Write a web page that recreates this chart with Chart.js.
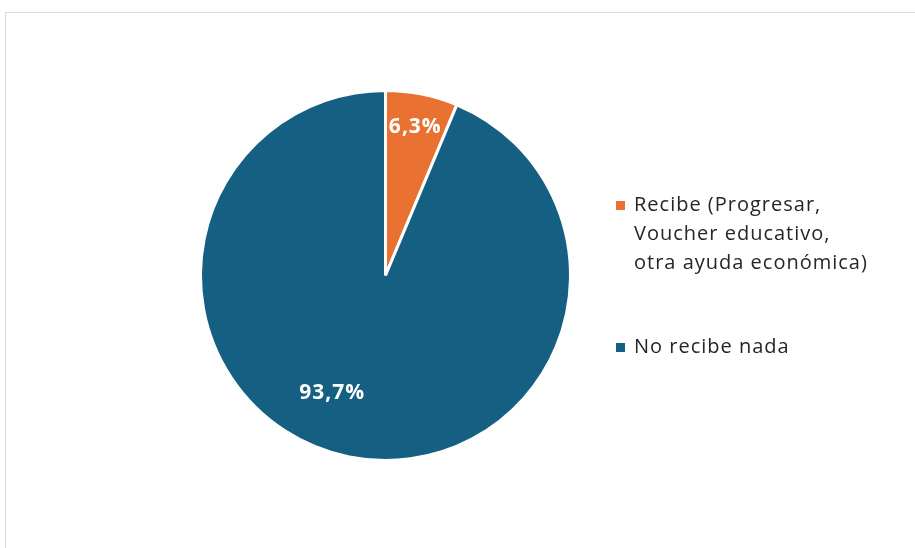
<!DOCTYPE html>
<html>
<head>
<meta charset="utf-8">
<script src="https://cdn.jsdelivr.net/npm/chart.js@4.4.1/dist/chart.umd.min.js"></script>
<style>
  html, body { margin: 0; padding: 0; background: #fff; }
  #wrap { width: 915px; height: 548px; position: relative; }
</style>
</head>
<body>
<div id="wrap"><canvas id="grafico"></canvas></div>
<script>
// categorias y porcentajes
const categorias = [
  ['Recibe (Progresar,', 'Voucher educativo,', 'otra ayuda económica)'],
  ['No recibe nada']
]
const porcentajes = [6.3, 93.7]
const etiquetas = ['6,3%', '93,7%']
const colores = ['#E97132', '#156082']

// donde va cada etiqueta dentro de su porcion (fraccion del radio, giro en grados)
const posEtiqueta = [{ r: 0.82, giro: 0 }, { r: 0.70, giro: 13 }]

const fuente = '"Open Sans", "Liberation Sans", sans-serif'

// marco gris del area del grafico
const marco = {
  id: 'marco',
  beforeDraw(chart) {
    const c = chart.ctx
    c.save()
    c.strokeStyle = '#d9d9d9'
    c.lineWidth = 1
    c.strokeRect(5.5, 12.5, 2000, 2000)
    c.restore()
  }
}

// porcentajes en blanco dentro de cada porcion
const valores = {
  id: 'valores',
  afterDatasetsDraw(chart) {
    const c = chart.ctx
    const meta = chart.getDatasetMeta(0)
    c.save()
    c.fillStyle = '#ffffff'
    c.font = 'bold 21px ' + fuente
    c.letterSpacing = '1px'
    c.textAlign = 'center'
    c.textBaseline = 'middle'
    meta.data.forEach((arc, i) => {
      const p = posEtiqueta[i]
      const ang = (arc.startAngle + arc.endAngle) / 2 + p.giro * Math.PI / 180
      const x = arc.x + Math.cos(ang) * arc.outerRadius * p.r
      const y = arc.y + Math.sin(ang) * arc.outerRadius * p.r
      c.fillText(etiquetas[i], x, y)
    })
    c.restore()
  }
}

// leyenda a la derecha, con textos en varias lineas
const leyenda = {
  id: 'leyenda',
  afterDraw(chart) {
    const c = chart.ctx
    const x0 = 620
    const alto = 29
    let y = 205
    c.save()
    c.font = '20px ' + fuente
    c.letterSpacing = '1px'
    c.textBaseline = 'middle'
    c.textAlign = 'left'
    categorias.forEach((lineas, i) => {
      c.fillStyle = colores[i]
      c.fillRect(x0 - 4, y - 4, 9, 9)
      c.fillStyle = '#262626'
      lineas.forEach((t, j) => c.fillText(t, x0 + 14, y + j * alto))
      y += lineas.length * alto + 55
    })
    c.restore()
  }
}

new Chart(document.getElementById('grafico'), {
  type: 'pie',
  data: {
    labels: categorias.map(l => l.join(' ')),
    datasets: [{
      data: porcentajes,
      backgroundColor: colores,
      borderColor: '#ffffff',
      borderWidth: 3
    }]
  },
  options: {
    responsive: true,
    maintainAspectRatio: false,
    animation: false,
    layout: { padding: { left: 199, right: 343, top: 89, bottom: 86 } },
    plugins: {
      legend: { display: false },
      tooltip: { enabled: false }
    }
  },
  plugins: [marco, valores, leyenda]
})
</script>
</body>
</html>
